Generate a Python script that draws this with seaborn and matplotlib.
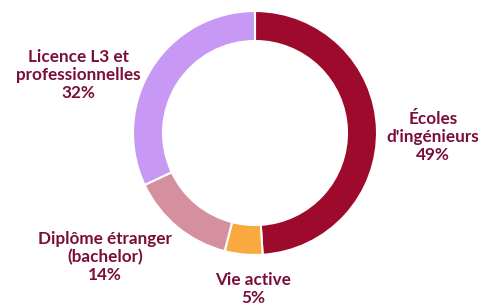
import matplotlib
matplotlib.use("Agg")
import matplotlib.pyplot as plt
import seaborn as sns

# data
labels = ["Écoles\nd'ingénieurs", "Vie active", "Diplôme étranger\n(bachelor)", "Licence L3 et\nprofessionnelles"]
shares = [49, 5, 14, 32]
colors = ["#9E0A2C", "#F9A93E", "#D4909F", "#C798F4"]

sns.set_theme(style="white")
plt.rcParams['font.family'] = ['Lato', 'DejaVu Sans']

fig = plt.figure(figsize=(4.87, 3.06), dpi=100)
ax = fig.add_axes([0, 0, 1, 1])

# pixel-like coordinates, y pointing up
cx, cy, r = 255, 306 - 133, 122
ax.pie(shares, colors=colors, startangle=90, counterclock=False,
       center=(cx, cy), radius=r,
       wedgeprops=dict(width=30, edgecolor="white", linewidth=1.5))

ax.set_xlim(0, 487)
ax.set_ylim(0, 306)
ax.set_aspect("equal")
ax.axis("off")

# label anchors (x, y from top)
label_pos = [(433, 137), (253, 289), (105, 257), (78, 75)]
txtcolor = "#7A0D3A"
for lab, val, (x, y) in zip(labels, shares, label_pos):
    ax.text(x, 306 - y, f"{lab}\n{val}%", ha="center", va="center",
            fontsize=12.3, fontweight="bold", color=txtcolor, linespacing=1.12)

fig.savefig("out.png", dpi=100)
